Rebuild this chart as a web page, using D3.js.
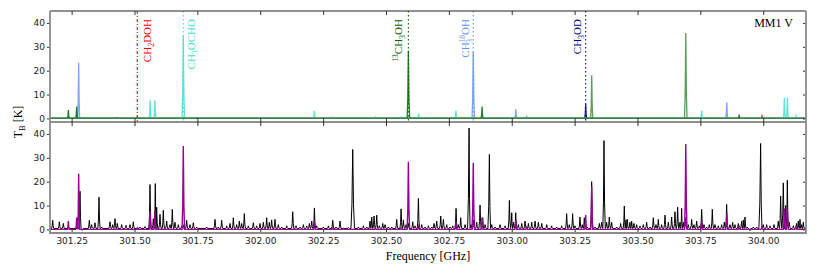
<!DOCTYPE html>
<html>
<head>
<meta charset="utf-8">
<script src="https://cdn.jsdelivr.net/npm/d3@7"></script>
<style>
  body { margin: 0; background: #fff; }
  text { font-family: "DejaVu Sans", sans-serif; }
</style>
</head>
<body>
<svg id="chart" width="831" height="267"></svg>
<script>
// ---- data: line lists [frequency GHz, peak T_B K, (optional half width GHz)] ----
const ch3ohLines = [[303.318, 18.1], [303.692, 35.8, 0.005]];
const c13h3ohLines = [[301.237, 3.5], [301.270, 5], [302.589, 28.3, 0.005], [302.882, 5]];
const ch3ochoLines = [[301.562, 7.6], [301.581, 7.6], [301.694, 34.9, 0.005], [302.215, 3.2],
  [302.288, 0.5], [302.458, 0.6], [302.560, 0.5], [302.630, 2], [302.778, 3.2],
  [303.755, 3.2], [304.084, 8.8], [304.096, 8.8], [304.130, 1]];
const ch318ohLines = [[301.278, 23.3], [302.847, 27.9, 0.005], [303.016, 3.8], [303.060, 0.8], [303.855, 6.7]];
const ch3odLines = [[303.294, 6], [303.904, 1]];
const ch2dohLines = [[301.430, 0.3], [301.511, 0.6], [303.995, 1]];

// observed spectrum peaks (black)
const obsBaseline = 0.4;
const obsPeaks = [
  [301.1746, 3.8], [301.2011, 3.2], [301.2170, 2.5], [301.2369, 1.2], [301.2833, 16], [301.2920, -0.4],
  [301.3204, 3.8], [301.3297, 2], [301.3429, 2.8], [301.3588, 13.5], [301.3694, 1], [301.4026, 3.2],
  [301.4132, 2], [301.4224, 4.5], [301.4317, 2.5], [301.4490, 2], [301.4662, 1.7], [301.4821, 2],
  [301.4953, 3.2], [301.5218, 1], [301.5417, 1.2], [301.5616, 18.8], [301.5749, 4.5], [301.5828, 19.2],
  [301.5881, 9.3], [301.6014, 6.3], [301.6146, 8], [301.6279, 3.5], [301.6411, 2], [301.6504, 8.4],
  [301.6610, 3], [301.6743, 2], [301.6875, 1.5], [301.6968, 2], [301.7074, 3.8], [301.7207, 2],
  [301.7339, 2.8], [301.7472, 1], [301.7869, 1], [301.8201, 4.2], [301.8333, 1], [301.8466, 3.8],
  [301.8665, 1.5], [301.8797, 2.5], [301.8930, 4.9], [301.9062, 2], [301.9168, 3.5], [301.9261, 2.5],
  [301.9367, 6.6], [301.9526, 1.5], [301.9725, 2.8], [301.9857, 1.5], [301.9990, 2.5], [302.0123, 3],
  [302.0255, 4.9], [302.0361, 3], [302.0454, 4], [302.0586, 4.2], [302.0719, 2], [302.0854, 1],
  [302.1053, 1.5], [302.1291, 7.4], [302.1424, 1.5], [302.1583, 1], [302.1715, 2], [302.1848, 1.5],
  [302.1954, 2.5], [302.2047, 3.5], [302.2153, 9], [302.2246, 1.5], [302.2511, 1], [302.2709, 1.5],
  [302.2882, 3.8], [302.3014, 1], [302.3173, 3.5], [302.3306, 0.5], [302.3505, 0.8], [302.3677, 33.5, 0.007],
  [302.3902, 1], [302.4101, 1.5], [302.4234, 1], [302.4366, 3.5], [302.4432, 5.2], [302.4525, 5.6],
  [302.4631, 6], [302.4737, 1.5], [302.4870, 2.5], [302.4963, 2], [302.5095, 1], [302.5228, 1],
  [302.5426, 4.2], [302.5599, 8.6], [302.5692, 4], [302.5798, 2], [302.5890, 2.5], [302.6063, 3.2],
  [302.6155, 1.5], [302.6288, 13], [302.6421, 2], [302.6553, 1], [302.6686, 1.5], [302.6818, 1],
  [302.6911, 2.5], [302.7017, 3.5], [302.7176, 5.6], [302.7282, 4.2], [302.7414, 2], [302.7547, 1],
  [302.7653, 1.5], [302.7786, 8.8], [302.7879, 2], [302.7971, 4.9], [302.8143, 2], [302.8303, 42.5, 0.006],
  [302.8382, 2], [302.8475, 4], [302.8607, 3], [302.8740, 10.2], [302.8846, 4.9], [302.8939, 2],
  [302.9111, 31.4, 0.006], [302.9204, 2], [302.9337, 1], [302.9535, 2], [302.9734, 1.5], [302.9906, 12.1],
  [302.9999, 7], [303.0066, 3], [303.0158, 7], [303.0264, 2], [303.0397, 2.5], [303.0529, 3.5],
  [303.0662, 2.5], [303.0794, 3], [303.0927, 3.5], [303.1059, 3], [303.1192, 2.5], [303.1391, 2],
  [303.1586, 1.5], [303.1785, 1], [303.1984, 1.5], [303.2183, 6.6], [303.2289, 2], [303.2421, 6.6],
  [303.2514, 1.5], [303.2713, 5.2], [303.2806, 2], [303.2885, 4.9], [303.3004, 1], [303.3177, 20],
  [303.3309, 1], [303.3482, 2.5], [303.3574, 3], [303.3667, 37.2, 0.006], [303.3773, 3], [303.3879, 5.2],
  [303.3972, 3], [303.4171, 1], [303.4330, 2.5], [303.4476, 9.8], [303.4542, 4], [303.4595, 4.2],
  [303.4701, 3], [303.4767, 3.5], [303.4860, 2.5], [303.4966, 2], [303.5099, 1.5], [303.5231, 2],
  [303.5364, 3], [303.5496, 1], [303.5629, 4.9], [303.5735, 2], [303.5828, 4.2], [303.5960, 2],
  [303.6093, 6], [303.6225, 3], [303.6358, 5.2], [303.6490, 7.4], [303.6596, 9.3], [303.6689, 3],
  [303.6755, 8.8], [303.6822, 3], [303.6914, 5], [303.7020, 2], [303.7153, 4.2], [303.7246, 2],
  [303.7352, 3.5], [303.7458, 1.5], [303.7551, 8.4], [303.7643, 2], [303.7749, 1], [303.7855, 2],
  [303.7975, 8.4], [303.8081, 2], [303.8213, 1.5], [303.8346, 2], [303.8452, 3], [303.8545, 10.5],
  [303.8677, 2], [303.8783, 3], [303.8876, 2], [303.9009, 2.5], [303.9141, 3.5], [303.9207, 4],
  [303.9274, 5.2], [303.9366, 1], [303.9472, -0.5], [303.9605, 1], [303.9737, 1], [303.9896, 36, 0.007],
  [304.0002, 2], [304.0135, 2], [304.0268, 1.5], [304.0427, 2], [304.0599, 3.5], [304.0692, 14],
  [304.0798, 19.5, 0.006], [304.0891, 10], [304.0957, 20.6], [304.1037, 3], [304.1196, 1.5],
  [304.1328, 2.5], [304.1394, 3.5], [304.1461, 4.2], [304.1527, 2], [304.1593, 3]
];

// labelled transitions [name, frequency GHz]
const markers = [["CH2DOH", 301.511], ["CH3OCHO", 301.694], ["13CH3OH", 302.589], ["CH318OH", 302.847], ["CH3OD", 303.294]];

const xTicks = [301.25, 301.50, 301.75, 302.00, 302.25, 302.50, 302.75, 303.00, 303.25, 303.50, 303.75, 304.00];
const yTicks = [0, 10, 20, 30, 40];

// ---- layout ----
const left = 50, right = 806;
const top1 = 11, mid = 122, bot2 = 233;
const svg = d3.select('#chart');

const x = d3.scaleLinear().domain([301.164, 304.170]).range([left, right]);
const yTop = d3.scaleLinear().domain([-1.5, 45]).range([mid, top1]);
const yBot = d3.scaleLinear().domain([-1.5, 45]).range([bot2, mid]);

// a thin peak drawn for every line of a list, on top of a flat baseline
function spectrumPath(peaks, base, y, w0) {
  const s = peaks.slice().sort((a, b) => a[0] - b[0]);
  const pts = [[x.domain()[0], base]];
  s.forEach((p, i) => {
    const w = p[2] || w0;
    const lo = i > 0 ? Math.max(p[0] - w, (s[i - 1][0] + p[0]) / 2) : p[0] - w;
    const hi = i < s.length - 1 ? Math.min(p[0] + w, (s[i + 1][0] + p[0]) / 2) : p[0] + w;
    const sh = base + (p[1] - base) * 0.3;
    pts.push([lo, base], [p[0] - (p[0] - lo) * 0.45, sh], [p[0], p[1]],
      [p[0] + (hi - p[0]) * 0.45, sh], [hi, base]);
  });
  pts.push([x.domain()[1], base]);
  return d3.line().x(d => x(d[0])).y(d => y(d[1]))(pts);
}

// ---- top panel: dotted markers ----
const markStyle = {
  "CH2DOH":  { color: "red", dash: "3,2,1,2", dx: 13.5 },
  "CH3OCHO": { color: "turquoise", dash: "1.5,2.5", dx: 12 },
  "13CH3OH": { color: "darkgreen", dash: "1.5,2.5", dx: -6 },
  "CH318OH": { color: "cornflowerblue", dash: "1.5,2.5", dx: -4 },
  "CH3OD":   { color: "darkblue", dash: "1.5,2.5", dx: -5 }
};

svg.selectAll('line.marker')
  .data(markers)
  .enter()
  .append('line')
  .attr('x1', d => x(d[1])).attr('x2', d => x(d[1]))
  .attr('y1', top1).attr('y2', mid)
  .attr('stroke', d => markStyle[d[0]].color)
  .attr('stroke-width', 1.1)
  .attr('stroke-dasharray', d => markStyle[d[0]].dash);

// species spectra
const species = [
  { lines: ch2dohLines, color: "red" },
  { lines: ch3odLines, color: "darkblue" },
  { lines: ch318ohLines, color: "cornflowerblue" },
  { lines: ch3ochoLines, color: "turquoise" },
  { lines: c13h3ohLines, color: "darkgreen" },
  { lines: ch3ohLines, color: "#3c8c3c" }
];
svg.selectAll('path.species')
  .data(species)
  .enter()
  .append('path')
  .attr('d', d => spectrumPath(d.lines, 0, yTop, 0.004))
  .attr('fill', 'none')
  .attr('stroke', d => d.color)
  .attr('stroke-width', 1.3)
  .attr('stroke-opacity', 0.85);

// rotated labels with sub/superscripts
const serif = '"Liberation Serif", "Times New Roman", serif';
function addLabel(name, f) {
  const st = markStyle[name];
  const t = svg.append('text')
    .attr('transform', `translate(${x(f) + st.dx}, 19) rotate(-90)`)
    .attr('text-anchor', 'end')
    .style('font-family', serif)
    .style('font-size', '11px')
    .attr('fill', st.color);
  const sub = (s) => { t.append('tspan').attr('dy', 3).style('font-size', '8px').text(s); };
  const back = (s) => { t.append('tspan').attr('dy', -3).text(s); };
  if (name === "CH2DOH") { t.append('tspan').text('CH'); sub('2'); back('DOH'); }
  if (name === "CH3OCHO") { t.append('tspan').text('CH'); sub('3'); back('OCHO'); }
  if (name === "CH3OD") { t.append('tspan').text('CH'); sub('3'); back('OD'); }
  if (name === "13CH3OH") {
    t.append('tspan').attr('dy', -4).style('font-size', '7.5px').text('13');
    t.append('tspan').attr('dy', 4).text('CH'); sub('3'); back('OH');
  }
  if (name === "CH318OH") {
    t.append('tspan').text('CH');
    t.append('tspan').attr('dy', -4).style('font-size', '7.5px').text('18');
    t.append('tspan').attr('dx', -8).attr('dy', 7).style('font-size', '8px').text('3');
    t.append('tspan').attr('dx', 4).attr('dy', -3).text('OH');
  }
}
markers.forEach(m => addLabel(m[0], m[1]));

svg.append('text')
  .attr('x', 793).attr('y', 27)
  .attr('text-anchor', 'end')
  .style('font-family', serif)
  .style('font-size', '12px')
  .text('MM1 V');

// ---- bottom panel: observed (black) and model (purple) ----
svg.append('path')
  .attr('d', spectrumPath(obsPeaks, obsBaseline, yBot, 0.0045))
  .attr('fill', 'none')
  .attr('stroke', '#000')
  .attr('stroke-width', 1);

const modelLines = species.flatMap(d => d.lines);
svg.append('path')
  .attr('d', spectrumPath(modelLines, 0, yBot, 0.004))
  .attr('fill', 'none')
  .attr('stroke', '#990099')
  .attr('stroke-width', 1.4);

// ---- axes ----
function styleAxis(g) {
  g.select('.domain').remove();
  g.selectAll('.tick line').attr('stroke', '#333');
  g.selectAll('.tick text').attr('fill', '#222').style('font-size', '9px')
    .style('font-family', '"DejaVu Sans", sans-serif');
}
const fmt = d3.format('.2f');

svg.append('g').attr('transform', `translate(0,${top1})`)
  .call(d3.axisBottom(x).tickValues(xTicks).tickSize(4).tickFormat(''))
  .call(styleAxis);
svg.append('g').attr('transform', `translate(0,${mid})`)
  .call(d3.axisTop(x).tickValues(xTicks).tickSize(4).tickFormat(''))
  .call(styleAxis);
svg.append('g').attr('transform', `translate(0,${mid})`)
  .call(d3.axisBottom(x).tickValues(xTicks).tickSize(4).tickFormat(''))
  .call(styleAxis);
svg.append('g').attr('transform', `translate(0,${bot2})`)
  .call(d3.axisBottom(x).tickValues(xTicks).tickSize(-4).tickPadding(4.5).tickFormat(fmt))
  .call(styleAxis);

[yTop, yBot].forEach(y => {
  svg.append('g').attr('transform', `translate(${left},0)`)
    .call(d3.axisLeft(y).tickValues(yTicks).tickSize(3).tickPadding(2))
    .call(styleAxis);
  svg.append('g').attr('transform', `translate(${right},0)`)
    .call(d3.axisRight(y).tickValues(yTicks).tickSize(-3).tickFormat(''))
    .call(styleAxis);
});

// spines
svg.append('line').attr('x1', left).attr('x2', right).attr('y1', top1).attr('y2', top1)
  .attr('stroke', '#222').attr('stroke-width', 1);
svg.append('line').attr('x1', left).attr('x2', right).attr('y1', mid).attr('y2', mid)
  .attr('stroke', '#222').attr('stroke-width', 1.2);
svg.append('line').attr('x1', left).attr('x2', right).attr('y1', bot2).attr('y2', bot2)
  .attr('stroke', '#8c8c8c').attr('stroke-width', 1.8);
[left, right].forEach(xx => {
  svg.append('line').attr('x1', xx).attr('x2', xx).attr('y1', top1).attr('y2', bot2 + 0.9)
    .attr('stroke', '#8c8c8c').attr('stroke-width', 1.8);
});

// axis titles
svg.append('text')
  .attr('x', (left + right) / 2).attr('y', 259.5)
  .attr('text-anchor', 'middle')
  .style('font-family', serif).style('font-size', '12px')
  .text('Frequency [GHz]');

const yl = svg.append('text')
  .attr('transform', `translate(21.5, ${mid}) rotate(-90)`)
  .attr('text-anchor', 'middle')
  .style('font-family', serif).style('font-size', '12px');
yl.append('tspan').text('T');
yl.append('tspan').attr('dy', 3).style('font-size', '8.5px').text('B');
yl.append('tspan').attr('dy', -3).text(' [K]');
</script>
</body>
</html>
